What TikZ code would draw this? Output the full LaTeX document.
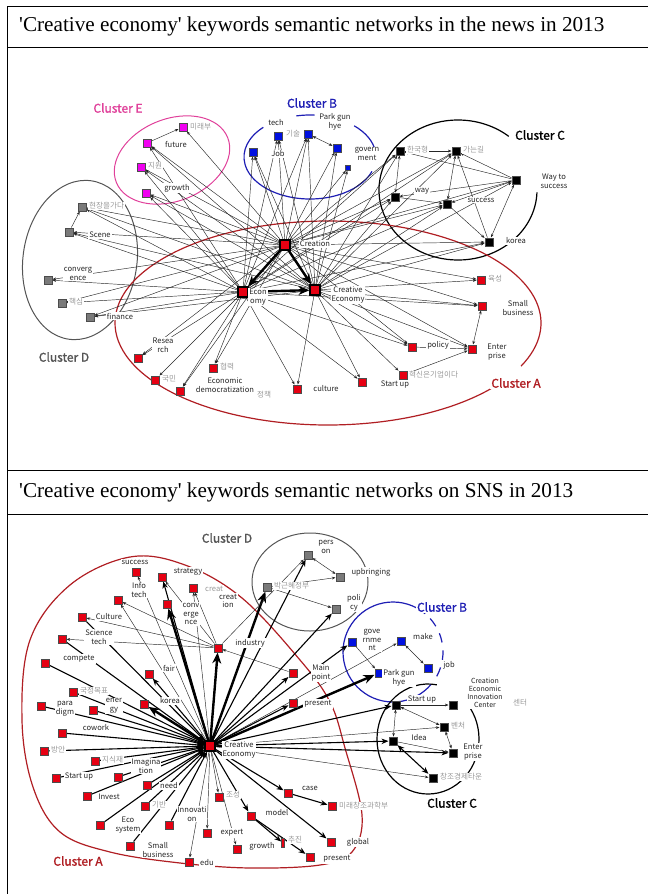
\documentclass[tikz,border=0pt]{standalone}
\usepackage{fontspec}
\setmainfont{Liberation Serif}
\newfontfamily\kr{Noto Sans CJK KR}
\newfontfamily\krb[FakeBold=1.5]{Noto Sans CJK KR}
\usetikzlibrary{arrows.meta}
\definecolor{nred}{HTML}{E60012}
\definecolor{nblue}{HTML}{0010E0}
\definecolor{nmag}{HTML}{F000F0}
\definecolor{ngray}{HTML}{7A7A7A}
\definecolor{cred}{HTML}{B01E23}
\definecolor{cblue}{HTML}{1E1EB4}
\definecolor{cpink}{HTML}{E0409A}
\definecolor{cgray}{HTML}{555555}
\definecolor{kgray}{HTML}{9A9A9A}
\pgfdeclarelayer{bg}
\pgfsetlayers{bg,main}
\begin{document}
\begin{tikzpicture}[x=1pt,y=-1pt,
  sq/.style={rectangle,draw=black!70,line width=0.5pt,inner sep=0pt,minimum size=8.5pt},
  rn/.style={sq,fill=nred}, bn/.style={sq,fill=nblue}, mn/.style={sq,fill=nmag},
  gn/.style={sq,fill=ngray}, kn/.style={sq,fill=black},
  hub/.style={sq,fill=nred,minimum size=10pt,draw=black,line width=1.2pt},
  lab/.style={font=\kr\fontsize{7.6}{8.6}\selectfont,align=center,inner sep=1pt,fill=white,text=black!85},
  klab/.style={font=\kr\fontsize{7.6}{8.6}\selectfont,inner sep=1pt,fill=white,text=kgray,anchor=west},
  clus/.style={font=\krb\fontsize{12}{14}\selectfont,inner sep=1pt,fill=white},
  ln/.style={line width=0.45pt,draw=black!85,-{Stealth[length=3.6pt,width=2.8pt]}},
  lnb/.style={line width=0.45pt,draw=black!85,{Stealth[length=3.6pt,width=2.8pt]}-{Stealth[length=3.6pt,width=2.8pt]}},
  md/.style={line width=1.1pt,-{Stealth[length=7pt,width=5.5pt]}},
  mdb/.style={line width=1.1pt,{Stealth[length=7pt,width=5.5pt]}-{Stealth[length=7pt,width=5.5pt]}},
  tk/.style={line width=2.4pt,-{Stealth[length=11pt,width=9pt]}},
  ttl/.style={font=\fontsize{21.2}{25}\selectfont,anchor=west,inner sep=0pt},
]
\useasboundingbox (0,0) rectangle (648,894);

% table frame and titles
\draw[line width=0.9pt] (7,894) -- (7,6) -- (648,6);
\draw[line width=0.9pt] (7,47) -- (648,47);
\draw[line width=0.9pt] (7,470) -- (648,470);
\draw[line width=0.9pt] (7,514) -- (648,514);
\node[ttl] (t1) at (19,26) {\textquotesingle Creative economy\textquotesingle{} keywords semantic networks in the news in 2013};
\node[ttl] (t2) at (19,492) {\textquotesingle Creative economy\textquotesingle{} keywords semantic networks on SNS in 2013};

% ================= news network =================
% cluster E
\node[mn] (e1) at (183,127) {};
\node[mn] (e2) at (147,143) {};
\node[mn] (e3) at (141,167) {};
\node[mn] (e4) at (146,193) {};
\node[klab] (le1) at (189,127) {미래부};
\node[lab] (le2) at (176,144) {future};
\node[klab] (le3) at (147,166) {지원};
\node[lab] (le4) at (177,188) {growth};
\node[clus,text=cpink] (cE) at (118,108) {Cluster E};
% cluster D
\node[gn] (d1) at (82,207) {};
\node[gn] (d2) at (69,232) {};
\node[gn] (d3) at (48,280) {};
\node[gn] (d4) at (62,303) {};
\node[gn] (d5) at (90,317) {};
\node[klab] (ld1) at (88,206) {현장을가다};
\node[lab] (ld2) at (100,235) {Scene};
\node[lab] (ld3) at (78,274) {converg\\ence};
\node[klab] (ld4) at (68,302) {핵심};
\node[lab] (ld5) at (120,316) {finance};
\node[clus,text=cgray] (cD) at (64,357) {Cluster D};
% cluster B
\node[bn] (b1) at (278,136) {};
\node[bn] (b2) at (308,134) {};
\node[bn] (b3) at (253,152) {};
\node[bn] (b4) at (337,148) {};
\node[bn,minimum size=5pt] (b5) at (348,168) {};
\node[lab] (lb1) at (276,123) {tech};
\node[klab] (lb2) at (285,134) {기술};
\node[lab] (lb3) at (278,154) {Job};
\node[lab] (lb4) at (335,122) {Park gun\\hye};
\node[lab] (lb5) at (367,154) {govern\\ment};
\node[clus,text=cblue] (cB) at (312,103) {Cluster B};
% cluster C
\node[kn] (c1) at (400,151) {};
\node[kn] (c2) at (456,151) {};
\node[kn] (c3) at (516,180) {};
\node[kn] (c4) at (395,197) {};
\node[kn] (c5) at (447,204) {};
\node[kn] (c6) at (489,242) {};
\node[klab] (lc1) at (406,150) {한국형};
\node[klab] (lc2) at (462,150) {가는길};
\node[lab] (lc3) at (554,181) {Way to\\success};
\node[lab] (lc4) at (422,191) {way};
\node[lab] (lc5) at (481,200) {success};
\node[lab] (lc6) at (516,241) {korea};
\node[clus,text=black] (cC) at (540,135) {Cluster C};
% cluster A
\node[hub] (hCr) at (285,245) {};
\node[hub] (hEc) at (243,292) {};
\node[hub] (hCE) at (315,290) {};
\node[rn] (a1) at (481,280) {};
\node[rn] (a2) at (482,306) {};
\node[rn] (a3) at (412,347) {};
\node[rn] (a4) at (472,349) {};
\node[rn] (a5) at (403,375) {};
\node[rn] (a6) at (362,382) {};
\node[rn] (a7) at (297,389) {};
\node[rn] (a8) at (138,358) {};
\node[rn] (a9) at (155,380) {};
\node[rn] (a10) at (180,391) {};
\node[rn] (a11) at (213,368) {};
\node[lab] (lhCr) at (315,244) {Creation};
\node[lab] (lhEc) at (258,297) {Econ\\omy};
\node[lab] (lhCE) at (348,295) {Creative\\Economy};
\node[klab] (la1) at (487,279) {육성};
\node[lab] (la2) at (518,308) {Small\\business};
\node[lab] (la3) at (438,345) {policy};
\node[lab] (la4) at (497,352) {Enter\\prise};
\node[klab] (la5) at (408,375) {혁신은기업이다};
\node[lab] (la6) at (395,385) {Start up};
\node[lab] (la7) at (326,389) {culture};
\node[klab] (lpol) at (256,395) {정책};
\node[lab] (la8) at (163,345) {Resea\\rch};
\node[klab] (la9) at (161,379) {국민};
\node[lab] (la10) at (225,385) {Economic\\democratization};
\node[klab] (la11) at (219,367) {협력};
\node[clus,text=cred] (cA) at (516,383) {Cluster A};

\begin{pgfonlayer}{bg}
  % cluster outlines
  \draw[cpink,line width=1pt,rotate around={22:(172,160)}] (172,160) ellipse (60 and 41);
  \draw[cgray,line width=1pt,rotate around={-8:(80,260)}] (80,260) ellipse (57 and 80);
  \draw[cblue,line width=1.2pt] (310,157) ++(20:66 and 42) arc[start angle=20,end angle=225,x radius=66,y radius=42];
  \draw[cblue,line width=1.2pt] (310,157) ++(258:66 and 42) arc[start angle=258,end angle=274,x radius=66,y radius=42];
  \draw[cblue,line width=1.2pt] (310,157) ++(312:66 and 42) arc[start angle=312,end angle=352,x radius=66,y radius=42];
  \draw[black,line width=1.2pt] (458,190) ++(2:79 and 70) arc[start angle=2,end angle=310,x radius=79,y radius=70];
  \draw[cred,line width=1.2pt] (328,323) ++(40:213 and 102) arc[start angle=40,end angle=385,x radius=213,y radius=102];
  % edges
  \foreach \t in {e1,e2,e3,e4,d1,d2,d3,d4,d5,b1,b2,b3,b4,b5,c1,c2,c3,c4,c5,c6,a1,a2,a3,a4,a8,a10,a11}
    \draw[ln] (hCr) -- (\t);
  \foreach \t in {e2,e3,e4,d1,d2,d3,d4,d5,b1,b2,b3,c1,c2,c4,c5,c6,a2,a3,a6,a7,a8,a9,a10,a11}
    \draw[ln] (hEc) -- (\t);
  \foreach \t in {e2,e3,e4,d1,d2,d5,b1,b2,b3,b4,b5,c1,c2,c3,c4,c5,c6,a1,a2,a3,a4,a5,a6,a7}
    \draw[ln] (hCE) -- (\t);
  \foreach \s/\t in {e2/e1,d2/d1,c1/c2,c3/c1,c3/c2,c3/c4,c3/c5,c4/c5,c5/c6,c6/c2,a3/a4,a5/a4}
    \draw[ln] (\s) -- (\t);
  \foreach \s/\t in {b2/b4,c1/c4,c2/c5,c6/c3,a4/a2}
    \draw[lnb] (\s) -- (\t);
  \draw[tk] (hCr) -- (hEc);
  \draw[tk] (hCr) -- (hCE);
  \draw[tk] (hEc) -- (hCE);
\end{pgfonlayer}

% ================= SNS network =================
% cluster A
\node[rn] (s1) at (136,572) {};
\node[rn] (s2) at (162,577) {};
\node[rn] (s4) at (193,588) {};
\node[rn] (s5) at (167,604) {};
\node[rn] (s6) at (118,600) {};
\node[rn] (s7) at (82,617) {};
\node[rn] (s8) at (62,639) {};
\node[rn] (s9) at (45,663) {};
\node[rn] (s10) at (218,648) {};
\node[rn] (s11) at (149,674) {};
\node[rn] (s12) at (73,692) {};
\node[rn] (s13) at (41,706) {};
\node[rn] (s14) at (93,710) {};
\node[rn] (s15) at (144,704) {};
\node[rn] (s16) at (62,733) {};
\node[rn] (s17) at (44,751) {};
\node[rn] (s18) at (95,761) {};
\node[rn] (s19) at (56,778) {};
\node[rn] (s20) at (118,777) {};
\node[rn] (s21) at (147,785) {};
\node[rn] (s22) at (87,796) {};
\node[rn] (s23) at (145,806) {};
\node[rn] (s24) at (100,825) {};
\node[rn] (s25) at (169,825) {};
\node[rn] (s26) at (207,833) {};
\node[rn] (s27) at (130,846) {};
\node[rn] (s28) at (189,862) {};
\node[rn] (s29) at (219,797) {};
\node[rn] (s30) at (288,793) {};
\node[rn] (s31) at (332,806) {};
\node[rn] (s32) at (251,816) {};
\node[rn] (s33) at (237,849) {};
\node[rn,minimum width=3pt,minimum height=9pt] (s34) at (283,843) {};
\node[rn] (s35) at (331,842) {};
\node[rn] (s36) at (310,857) {};
\node[rn] (s37) at (293,673) {};
\node[rn] (s38) at (293,703) {};
\node[hub] (H) at (210,746) {};
\node[lab] (ls1) at (135,562) {success};
\node[lab] (ls2) at (188,572) {strategy};
\node[lab] (linf) at (139,590) {Info\\tech};
\node[klab] (lcr) at (204,589) {creat};
\node[lab] (ls4) at (228,601) {creat\\ion};
\node[lab] (ls5) at (191,614) {conv\\erge\\nce};
\node[lab] (ls7) at (109,617) {Culture};
\node[lab] (ls8) at (99,637) {Science\\tech};
\node[lab] (ls9) at (79,659) {compete};
\node[lab] (ls10) at (250,643) {industry};
\node[lab] (ls11) at (169,668) {fair};
\node[klab] (ls12) at (79,691) {국정목표};
\node[lab] (ls13) at (65,709) {para\\digm};
\node[lab] (ls14) at (114,706) {ener\\gy};
\node[lab] (ls15) at (170,701) {korea};
\node[lab] (ls16) at (96,728) {cowork};
\node[klab] (ls17) at (50,750) {방안};
\node[lab] (lH) at (239,750) {Creative\\Economy};
\node[klab] (ls18) at (101,760) {지식재};
\node[lab] (ls20) at (146,766) {Imagina\\tion};
\node[lab] (ls19) at (79,777) {Start up};
\node[lab] (ls21) at (169,786) {need};
\node[lab] (ls22) at (109,797) {Invest};
\node[klab] (ls23) at (151,805) {기반};
\node[lab] (ls25) at (192,814) {Innovati\\on};
\node[klab] (ls29) at (225,795) {조성};
\node[lab] (ls24) at (128,825) {Eco\\system};
\node[lab] (ls26) at (232,833) {expert};
\node[lab] (ls27) at (158,850) {Small\\business};
\node[lab] (ls28) at (207,863) {edu};
\node[lab] (ls30) at (310,788) {case};
\node[klab] (ls31) at (338,806) {미래창조과학부};
\node[lab] (ls32) at (277,813) {model};
\node[lab] (ls33) at (262,846) {growth};
\node[klab] (ls34) at (287,840) {추진};
\node[lab] (ls35) at (358,842) {global};
\node[lab] (ls36) at (337,859) {present};
\node[lab] (ls37) at (321,673) {Main\\point};
\node[lab] (ls38) at (318,704) {present};
\node[clus,text=cred] (cA2) at (78,861) {Cluster A};
% cluster D
\node[gn] (g1) at (308,555) {};
\node[gn] (g2) at (340,577) {};
\node[gn] (g3) at (267,587) {};
\node[gn] (g4) at (336,609) {};
\node[lab] (lg1) at (326,547) {pers\\on};
\node[lab] (lg2) at (371,572) {upbringing};
\node[klab] (lg3) at (273,586) {박근혜정부};
\node[lab] (lg4) at (354,603) {poli\\cy};
\node[clus,text=cgray] (cD2) at (227,538) {Cluster D};
% cluster B
\node[bn] (u1) at (352,642) {};
\node[bn] (u2) at (401,641) {};
\node[bn] (u3) at (428,668) {};
\node[bn] (u4) at (379,673) {};
\node[lab] (lu1) at (372,640) {gove\\rnme\\nt};
\node[lab] (lu2) at (423,637) {make};
\node[lab] (lu3) at (449,665) {job};
\node[lab] (lu4) at (399,678) {Park gun\\hye};
\node[clus,text=cblue] (cB2) at (442,607) {Cluster B};
% cluster C
\node[kn] (k1) at (396,705) {};
\node[kn] (k2) at (453,705) {};
\node[kn] (k3) at (444,727) {};
\node[kn] (k4) at (393,741) {};
\node[kn] (k5) at (453,753) {};
\node[kn] (k6) at (433,778) {};
\node[lab] (lk1) at (422,700) {Start up};
\node[lab,font=\kr\fontsize{7}{8.2}\selectfont] (lk2) at (485,693) {Creation\\Economic\\Innovation\\Center};
\node[klab] (lk2b) at (512,703) {센터};
\node[klab] (lk3) at (450,726) {벤처};
\node[lab] (lk4) at (419,738) {Idea};
\node[lab] (lk5) at (473,752) {Enter\\prise};
\node[klab] (lk6) at (439,777) {창조경제타운};
\node[clus,text=black] (cC2) at (452,803) {Cluster C};

\begin{pgfonlayer}{bg}
  % cluster outlines
  \draw[cred,line width=1.2pt] plot[smooth cycle,tension=0.6] coordinates {(130,557) (185,565) (242,598) (300,660) (330,702) (345,748) (362,815) (352,852) (320,865) (250,868) (180,863) (110,852) (60,832) (33,787) (22,720) (30,640) (70,585)};
  \draw[cgray,line width=1pt] (310,582) ellipse (58 and 49);
  \draw[cblue,line width=1.2pt] (393,652) ++(40:50 and 50) arc[start angle=40,end angle=310,x radius=50,y radius=50];
  \foreach \a in {318,338,358,18}
    \draw[cblue,line width=1.2pt] (393,652) ++(\a:50 and 50) arc[start angle=\a,end angle=\a+11,x radius=50,y radius=50];
  \draw[black,line width=1.2pt] (428,739) ++(-40:51 and 55) arc[start angle=-40,end angle=280,x radius=51,y radius=55];
  % edges
  \foreach \t in {s1,s4,s29,s26,s28,s33,u2,k6,k3,s6}
    \draw[ln] (H) -- (\t);
  \foreach \t in {k1,s30,s32,s35,g1,g4,u1,s37,s38,s11,s2,k5,k4}
    \draw[md] (H) -- (\t);
  \foreach \t in {s10,s15,u4,s5,g3}
    \draw[tk] (H) -- (\t);
  \foreach \s in {s12,s13,s14,s16,s17,s18,s19,s20,s21,s22,s23,s24,s25,s27,s8,s9,s7}
    \draw[md] (\s) -- (H);
  \foreach \s/\t in {s10/s6,s10/s7,s10/s8,s37/s10,s10/g1,g3/g4,g3/g2,u1/u4,k1/k2,k4/k5,s10/s4,s10/s2}
    \draw[ln] (\s) -- (\t);
  \foreach \s/\t in {g1/g2,u2/u3,k1/k3,k1/k4,k3/k5}
    \draw[lnb] (\s) -- (\t);
  \draw[mdb] (k4) -- (k6);
  \foreach \s/\t in {s30/s31,s32/s34,s32/s36}
    \draw[md] (\s) -- (\t);
\end{pgfonlayer}
\end{tikzpicture}
\end{document}
